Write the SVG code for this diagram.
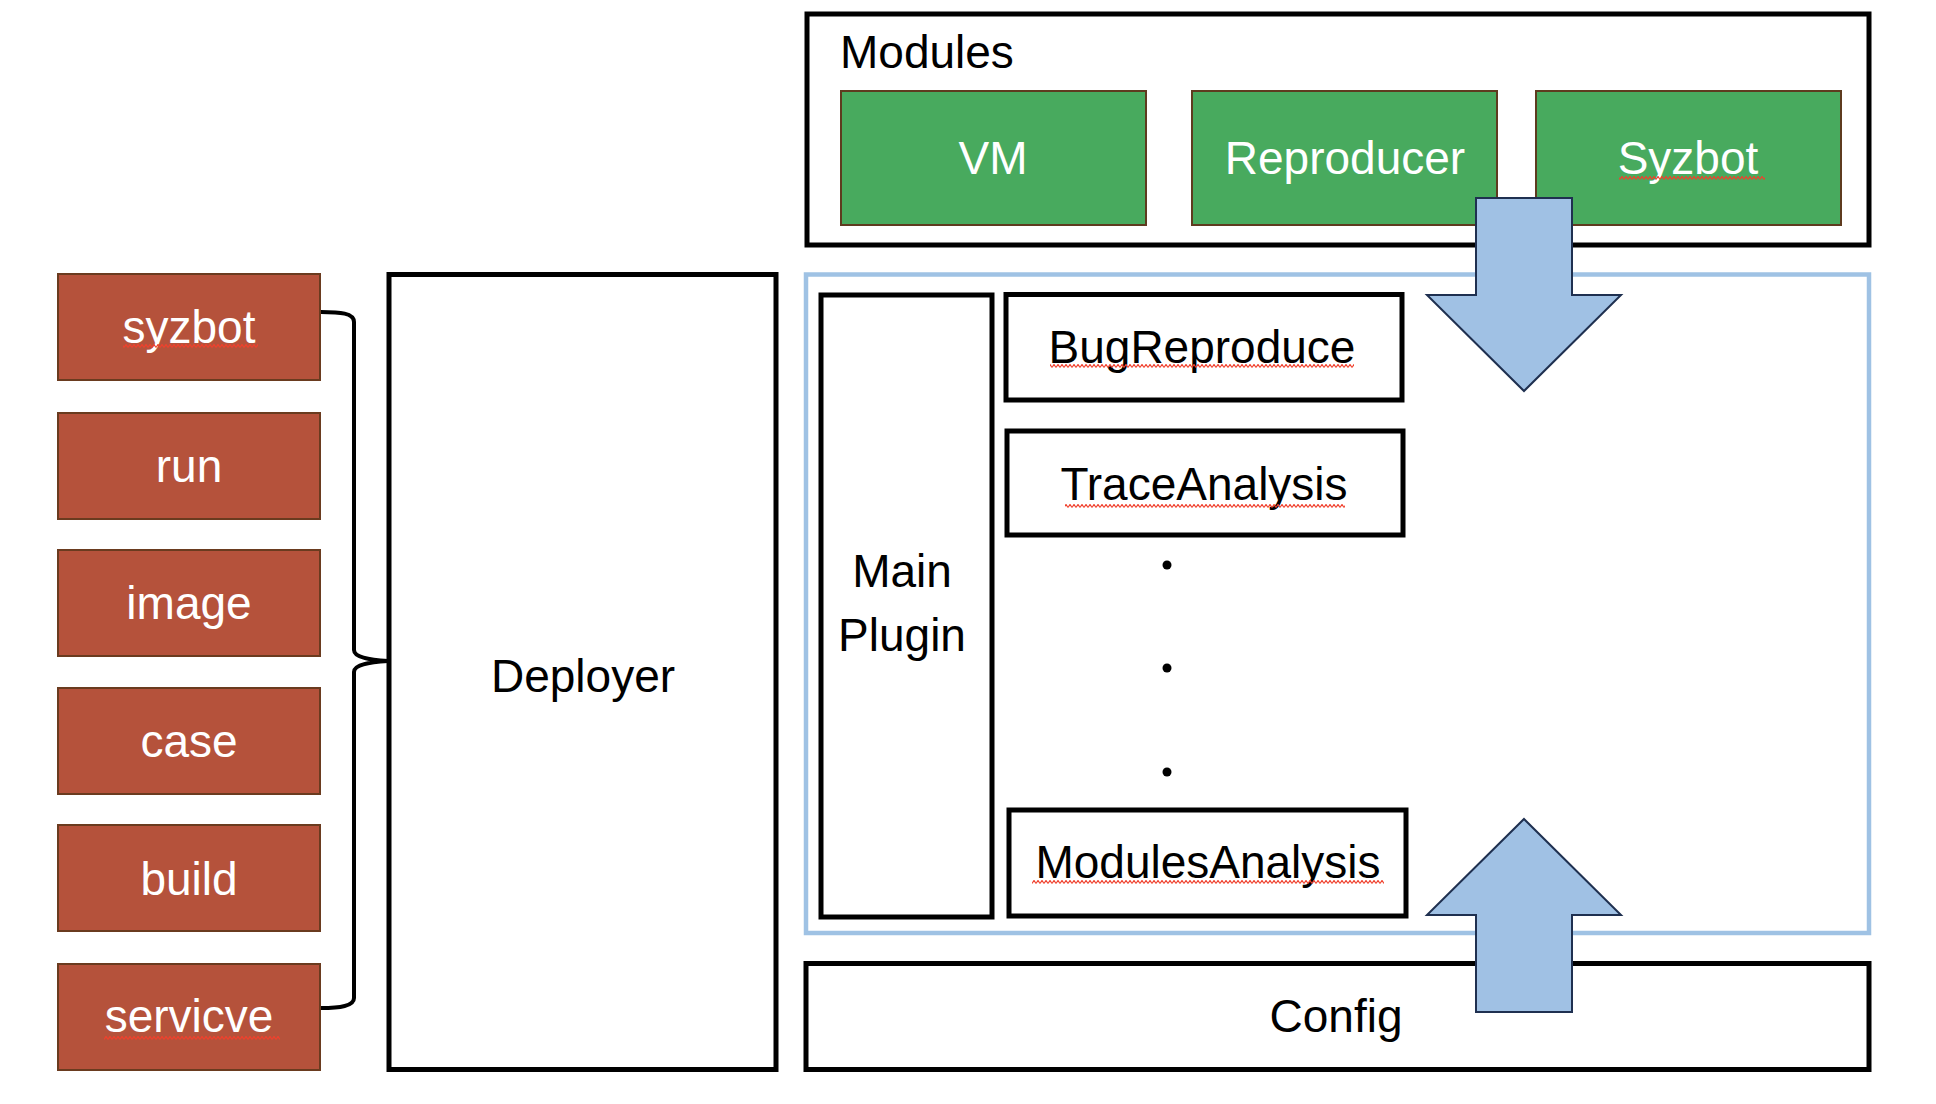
<svg xmlns="http://www.w3.org/2000/svg" width="1936" height="1104" viewBox="0 0 1936 1104">
<defs>
<style>
text{font-family:"Liberation Sans",Arial,sans-serif;font-size:46px}
.red rect{fill:#b5523b;stroke:#6a3b1f;stroke-width:2}
.red text{fill:#fff;text-anchor:middle}
.green rect{fill:#48aa5e;stroke:#5e3b1f;stroke-width:2}
.green text{fill:#fff;text-anchor:middle}
.box{fill:#fff;stroke:#000;stroke-width:5}
.lbl{fill:#000;text-anchor:middle}
.arrow{fill:#a0c1e4;stroke:#1f3050;stroke-width:2;stroke-linejoin:miter}
.red rect.sq,.green rect.sq,rect.sq{fill:url(#squig);stroke:none}
</style>
<pattern id="squig" x="0" y="0" width="4" height="4" patternUnits="userSpaceOnUse">
<path d="M0,3.5 L2,0.5 L4,3.5" fill="none" stroke="#f0402c" stroke-width="1.2"/>
</pattern>
</defs>
<rect width="1936" height="1104" fill="#fff"/>

<g id="modules">
<rect class="box" x="807" y="14" width="1062" height="231"/>
<text x="840" y="68">Modules</text>
</g>
<g id="vm" class="green">
<rect x="841" y="91" width="305" height="134"/>
<text x="993" y="174">VM</text>
</g>
<g id="reproducer" class="green">
<rect x="1192" y="91" width="305" height="134"/>
<text x="1345" y="174">Reproducer</text>
</g>
<g id="syzbot-module" class="green">
<rect x="1536" y="91" width="305" height="134"/>
<text x="1688" y="174">Syzbot</text>
<rect class="sq" x="1619" y="176" width="146" height="4"/>
</g>

<g id="plugin-container">
<rect x="806" y="274.5" width="1063" height="658.5" fill="none" stroke="#9fc2e4" stroke-width="4.5"/>
</g>
<g id="main-plugin">
<rect class="box" x="821" y="295" width="171" height="622" stroke-width="4"/>
<text class="lbl" x="902" y="587">Main</text>
<text class="lbl" x="902" y="651">Plugin</text>
</g>
<g id="bugreproduce">
<rect class="box" x="1006" y="294.5" width="396" height="105.5"/>
<text class="lbl" x="1202" y="363">BugReproduce</text>
<rect class="sq" x="1050" y="364" width="304" height="4"/>
</g>
<g id="traceanalysis">
<rect class="box" x="1007" y="431" width="396" height="104"/>
<text class="lbl" x="1204" y="500">TraceAnalysis</text>
<rect class="sq" x="1065" y="504" width="280" height="4"/>
</g>
<g id="dots">
<circle cx="1167" cy="565" r="4.5"/>
<circle cx="1167" cy="668" r="4.5"/>
<circle cx="1167" cy="772" r="4.5"/>
</g>
<g id="modulesanalysis">
<rect class="box" x="1009" y="810" width="397" height="106"/>
<text class="lbl" x="1208" y="878">ModulesAnalysis</text>
<rect class="sq" x="1032" y="880" width="352" height="4"/>
</g>

<g id="config">
<rect class="box" x="806" y="963.5" width="1063" height="106"/>
<text class="lbl" x="1336" y="1032">Config</text>
</g>

<g id="deployer">
<rect class="box" x="389" y="274.5" width="387" height="795" stroke-width="4.5"/>
<text class="lbl" x="583" y="692">Deployer</text>
</g>

<g id="cmd-syzbot" class="red">
<rect x="58" y="274" width="262" height="106"/>
<text x="189" y="343">syzbot</text>
<rect class="sq" x="123" y="344" width="135" height="4"/>
</g>
<g id="cmd-run" class="red">
<rect x="58" y="413" width="262" height="106"/>
<text x="189" y="482">run</text>
</g>
<g id="cmd-image" class="red">
<rect x="58" y="550" width="262" height="106"/>
<text x="189" y="619">image</text>
</g>
<g id="cmd-case" class="red">
<rect x="58" y="688" width="262" height="106"/>
<text x="189" y="757">case</text>
</g>
<g id="cmd-build" class="red">
<rect x="58" y="825" width="262" height="106"/>
<text x="189" y="895">build</text>
</g>
<g id="cmd-servicve" class="red">
<rect x="58" y="964" width="262" height="106"/>
<text x="189" y="1032">servicve</text>
<rect class="sq" x="104" y="1036" width="176" height="4"/>
</g>

<g id="connectors">
<path d="M321,312 C340,312 354,313 354,322 L354,650 C354,658 372,660 388,661 C372,662 354,664 354,672 L354,998 C354,1006 340,1008 321,1008" fill="none" stroke="#000" stroke-width="4"/>
<polygon class="arrow" points="1476,198 1572,198 1572,295 1621,295 1524,391 1427,295 1476,295"/>
<polygon class="arrow" points="1524,819 1621,915 1572,915 1572,1012 1476,1012 1476,915 1427,915"/>
</g>
</svg>
